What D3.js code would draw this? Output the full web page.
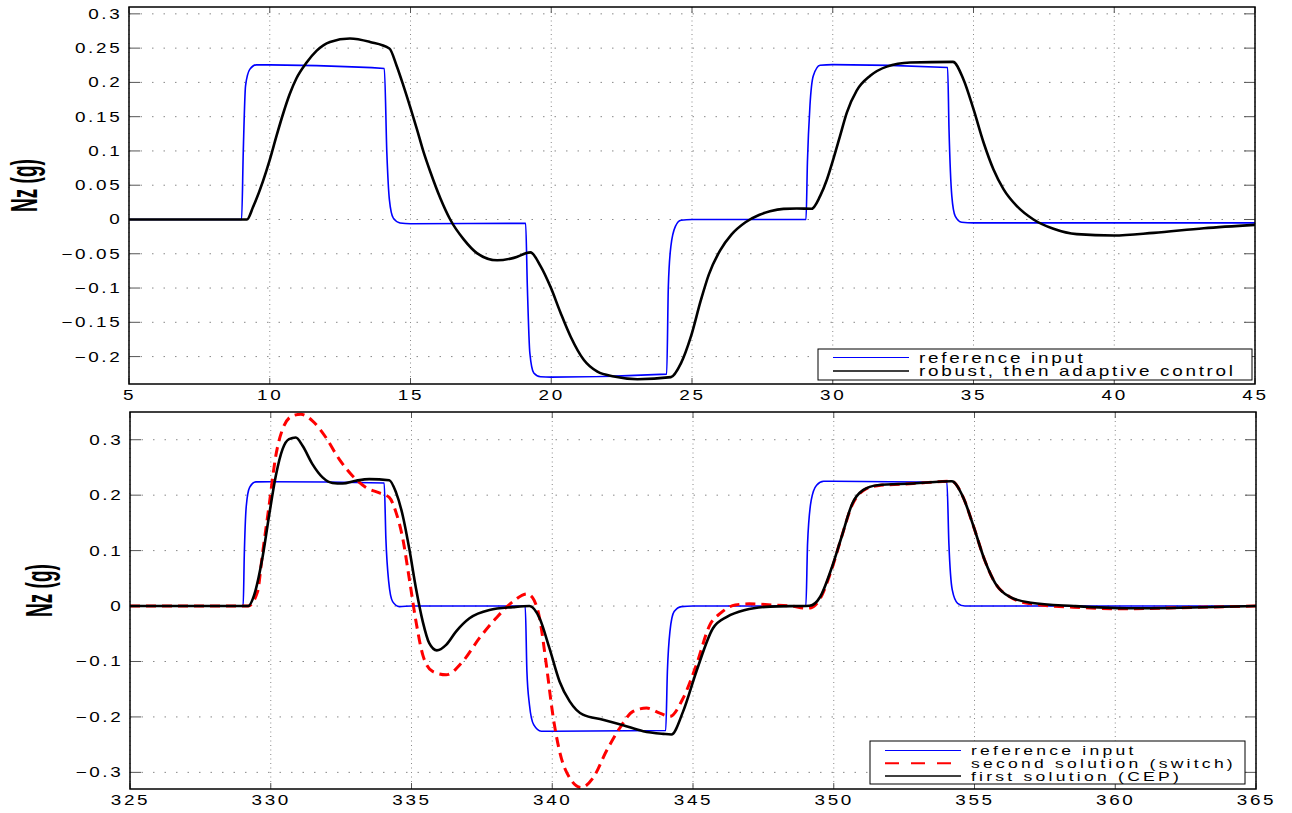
<!DOCTYPE html>
<html>
<head>
<meta charset="utf-8">
<script src="https://cdn.jsdelivr.net/npm/d3@7"></script>
<style>
  body { margin: 0; background: #fff; }
  text { font-family: "Liberation Sans", Arial, sans-serif; fill: #000; }
</style>
</head>
<body>
<svg id="chart" width="1292" height="813"></svg>
<script>
// ---- data (time in s, Nz in g) ----
var topXTicks = [5, 10, 15, 20, 25, 30, 35, 40, 45];
var topYTicks = [-0.2, -0.15, -0.1, -0.05, 0, 0.05, 0.1, 0.15, 0.2, 0.25, 0.3];
var bottomXTicks = [325, 330, 335, 340, 345, 350, 355, 360, 365];
var bottomYTicks = [-0.3, -0.2, -0.1, 0, 0.1, 0.2, 0.3];

var topReference = [[5,0],[9.0,0],[9.06,0.1],[9.14,0.195],[9.29,0.219],[9.52,0.2256],[10,0.2255],[14.07,0.2203],
  [14.16,0.097],[14.25,0.029],[14.39,0.002],[14.63,-0.005],[15,-0.0062],[19.09,-0.0055],[19.15,-0.097],[19.24,-0.195],
  [19.38,-0.224],[19.62,-0.2295],[20,-0.23],[24.1,-0.2256],[24.16,-0.097],[24.25,-0.039],[24.41,-0.01],[24.61,-0.001],
  [25,0],[29.05,0],[29.1,0.083],[29.19,0.166],[29.31,0.2096],[29.55,0.225],[30,0.226],[34.08,0.2217],[34.13,0.1316],
  [34.23,0.034],[34.35,0.005],[34.58,-0.004],[35,-0.005],[45,-0.005]];

var topRobustAdaptive = [[5,0],[9.19,0],[9.41,0.0185],[9.76,0.056],[10,0.087],[10.24,0.122],[10.48,0.155],[10.71,0.183],
  [10.95,0.206],[11.31,0.229],[11.66,0.246],[12.14,0.259],[12.85,0.264],[13.56,0.259],[14.25,0.2495],[14.51,0.224],
  [14.75,0.195],[14.99,0.164],[15.23,0.1316],[15.46,0.099],[15.7,0.07],[16.06,0.031],[16.41,0.0],[16.89,-0.029],
  [17.36,-0.049],[18.08,-0.0595],[18.67,-0.056],[19.26,-0.048],[19.62,-0.068],[19.98,-0.099],[20.33,-0.136],[20.69,-0.171],
  [21.16,-0.205],[21.64,-0.222],[22.23,-0.229],[23.06,-0.233],[24.25,-0.23],[24.61,-0.2096],[24.96,-0.171],[25.32,-0.117],
  [25.6,-0.08],[26.0,-0.045],[26.4,-0.022],[26.9,-0.004],[27.4,0.007],[27.77,0.012],[28.25,0.0155],[28.72,0.016],[29.25,0.0156],
  [29.55,0.034],[29.79,0.058],[30.02,0.088],[30.26,0.122],[30.5,0.156],[30.85,0.188],[31.33,0.2096],[31.92,0.223],
  [32.75,0.229],[34.27,0.23],[34.64,0.2047],[35.0,0.161],[35.36,0.112],[35.71,0.073],[36.07,0.044],[36.54,0.0195],
  [37.13,0],[37.84,-0.0136],[38.67,-0.0214],[39.98,-0.0234],[41.4,-0.0195],[43.18,-0.0127],[45,-0.0078]];

var bottomReference = [[325,0],[329.02,0],[329.06,0.092],[329.13,0.18],[329.25,0.214],[329.47,0.224],[330,0.2242],
  [334.03,0.222],[334.09,0.1216],[334.19,0.044],[334.33,0.008],[334.57,-0.001],[335,0],[339.04,0],[339.1,-0.118],
  [339.19,-0.178],[339.34,-0.214],[339.61,-0.2257],[340,-0.2257],[344.03,-0.2246],[344.09,-0.118],[344.18,-0.046],
  [344.33,-0.01],[344.59,-0.001],[345,0],[349.01,0],[349.07,0.113],[349.2,0.191],[349.39,0.218],[349.64,0.225],
  [350,0.225],[354.02,0.2234],[354.09,0.113],[354.21,0.029],[354.4,0.005],[354.66,0],[365,0]];

var bottomSwitch = [[325,0],[329.2,0],[329.53,0.0257],[329.7,0.0916],[329.94,0.181],[330.18,0.271],[330.42,0.319],
  [330.77,0.343],[331.07,0.346],[331.48,0.334],[331.96,0.304],[332.43,0.265],[332.9,0.235],[333.38,0.214],[333.86,0.204],
  [334.21,0.196],[334.45,0.169],[334.69,0.1216],[334.92,0.0497],[335.16,-0.028],[335.4,-0.088],[335.75,-0.118],
  [336.23,-0.124],[336.82,-0.1],[337.41,-0.058],[338.0,-0.022],[338.6,0.008],[339.1,0.022],[339.3,0.015],[339.55,-0.022],
  [339.79,-0.106],[340.02,-0.196],[340.26,-0.262],[340.62,-0.31],[341.03,-0.3275],[341.45,-0.31],[341.92,-0.262],
  [342.4,-0.22],[342.87,-0.19],[343.35,-0.184],[343.82,-0.193],[344.18,-0.199],[344.65,-0.166],[345.12,-0.106],
  [345.6,-0.034],[346.0,-0.012],[346.5,0.002],[347,0.004],[347.8,0.002],[348.5,0],[349.0,-0.004],[349.2,-0.003],
  [349.5,0.012],[349.9,0.062],[350.28,0.125],[350.66,0.183],[351.04,0.208],[351.55,0.217],[352.82,0.221],[354.19,0.225],
  [354.59,0.197],[354.97,0.143],[355.36,0.083],[355.74,0.041],[356.24,0.017],[357,0.004],[358.5,-0.002],[360.4,-0.005],
  [362.3,-0.003],[365,0]];

var bottomCEP = [[325,0],[329.2,0],[329.41,0.0198],[329.7,0.0856],[329.94,0.163],[330.18,0.235],[330.42,0.283],
  [330.65,0.301],[330.89,0.304],[331.13,0.289],[331.48,0.256],[331.84,0.232],[332.19,0.222],[332.55,0.221],[333.02,0.226],
  [333.5,0.229],[334.21,0.227],[334.45,0.205],[334.69,0.163],[334.92,0.1036],[335.16,0.0317],[335.4,-0.028],[335.63,-0.067],
  [335.9,-0.08],[336.23,-0.07],[336.58,-0.046],[337.06,-0.022],[337.77,-0.007],[338.6,-0.002],[339.19,0],[339.55,-0.022],
  [339.9,-0.076],[340.26,-0.136],[340.62,-0.172],[341.09,-0.196],[341.8,-0.205],[342.52,-0.215],[343.23,-0.2257],
  [343.94,-0.2305],[344.23,-0.2317],[344.65,-0.19],[345.12,-0.118],[345.71,-0.04],[346.22,-0.019],[346.85,-0.007],
  [347.74,-0.001],[349.14,0.0006],[349.52,0.0168],[349.9,0.065],[350.28,0.125],[350.66,0.185],[351.04,0.209],[351.55,0.218],
  [352.82,0.221],[354.19,0.225],[354.59,0.197],[354.97,0.143],[355.36,0.083],[355.74,0.041],[356.24,0.0168],[357.0,0.006],
  [358.53,0],[360.43,-0.004],[362.34,-0.003],[365,0]];

var svg = d3.select("#chart");
var STRETCH = 1.35;   // text in the picture is drawn wide
var fmt = d3.format("~g");

function stretch(sel, dx, size, spacing) {
    sel.attr("transform", "scale(" + STRETCH + ",1)")
       .style("letter-spacing", (spacing || 2) + "px")
       .style("font-size", (size || 14) + "px");
    if (dx != null) sel.attr("x", dx / STRETCH);
}

function drawPanel(p, id) {
    var x = d3.scaleLinear().domain(p.xDomain).range([p.left, p.right]);
    var y = d3.scaleLinear().domain(p.yDomain).range([p.bottom, p.top]);
    var g = svg.append("g");

    // dotted grid
    g.append("g").selectAll("line").data(p.yTicks).join("line")
        .attr("x1", p.left).attr("x2", p.right)
        .attr("y1", d => y(d)).attr("y2", d => y(d))
        .attr("stroke", "#888").attr("stroke-width", 1)
        .attr("stroke-dasharray", "1.5,10");
    g.append("g").selectAll("line").data(p.xTicks).join("line")
        .attr("y1", p.top).attr("y2", p.bottom)
        .attr("x1", d => x(d)).attr("x2", d => x(d))
        .attr("stroke", "#888").attr("stroke-width", 1)
        .attr("stroke-dasharray", "1,3.5");

    // inward ticks on all four sides
    var ticks = g.append("g").attr("stroke", "#555").attr("stroke-width", 1);
    p.yTicks.forEach(function(d) {
        ticks.append("line").attr("x1", p.left).attr("x2", p.left + 11).attr("y1", y(d)).attr("y2", y(d));
        ticks.append("line").attr("x1", p.right).attr("x2", p.right - 11).attr("y1", y(d)).attr("y2", y(d));
    });
    p.xTicks.forEach(function(d) {
        ticks.append("line").attr("y1", p.bottom).attr("y2", p.bottom - 6).attr("x1", x(d)).attr("x2", x(d));
        ticks.append("line").attr("y1", p.top).attr("y2", p.top + 6).attr("x1", x(d)).attr("x2", x(d));
    });

    // tick labels through d3 axes
    g.append("g").attr("transform", "translate(0," + p.bottom + ")")
        .call(d3.axisBottom(x).tickValues(p.xTicks).tickSize(0).tickPadding(6).tickFormat(fmt))
        .call(a => a.select(".domain").remove())
        .selectAll("text").call(stretch);
    g.append("g").attr("transform", "translate(" + p.left + ",0)")
        .call(d3.axisLeft(y).tickValues(p.yTicks).tickSize(0).tickFormat(fmt))
        .call(a => a.select(".domain").remove())
        .selectAll("text").call(stretch, -6.5);
    g.selectAll(".tick text").attr("fill", "#000").style("font-family", "'Liberation Sans', Arial, sans-serif");

    // curves
    svg.append("clipPath").attr("id", "clip" + id).append("rect")
        .attr("x", p.left).attr("y", p.top)
        .attr("width", p.right - p.left).attr("height", p.bottom - p.top);
    var line = d3.line().x(d => x(d[0])).y(d => y(d[1])).curve(d3.curveMonotoneX);
    var curves = g.append("g").attr("clip-path", "url(#clip" + id + ")");
    p.series.forEach(function(s) {
        curves.append("path").datum(s.data)
            .attr("d", line)
            .attr("fill", "none")
            .attr("stroke", s.color)
            .attr("stroke-width", s.width)
            .attr("stroke-dasharray", s.dash || null)
            .attr("stroke-linejoin", "round");
    });

    // frame
    g.append("rect").attr("x", p.left).attr("y", p.top)
        .attr("width", p.right - p.left).attr("height", p.bottom - p.top)
        .attr("fill", "none").attr("stroke", "#000").attr("stroke-width", 1.5);

    // y label
    var lab = g.append("text")
        .attr("transform", "translate(" + p.labelX + "," + ((p.top + p.bottom) / 2 - 10) + ") scale(1.35,0.68) rotate(-90)")
        .attr("text-anchor", "middle")
        .style("font-weight", "bold")
        .style("font-size", "28px");
    lab.append("tspan").text("Nz");
    lab.append("tspan").text(" (g)");

    // legend
    var L = p.legend;
    var leg = g.append("g");
    leg.append("rect").attr("x", L.x).attr("y", L.y).attr("width", L.w).attr("height", L.h)
        .attr("fill", "#fff").attr("stroke", "#000").attr("stroke-width", 1);
    L.rows.forEach(function(r, i) {
        var cy = L.y + L.first + i * L.step;
        leg.append("line").attr("x1", L.x + 15).attr("x2", L.x + 91).attr("y1", cy).attr("y2", cy)
            .attr("stroke", r.color).attr("stroke-width", r.width)
            .attr("stroke-dasharray", r.dash || null);
        leg.append("text").attr("y", cy + L.size * 0.36).text(r.label)
            .call(stretch, L.x + 101, L.size, L.spacing);
    });
}

drawPanel({
    xDomain: [5, 45], yDomain: [-0.24, 0.31],
    left: 129, right: 1255, top: 7, bottom: 384,
    xTicks: topXTicks, yTicks: topYTicks, labelX: 37,
    series: [
        { data: topReference, color: "#0000ff", width: 1.6 },
        { data: topRobustAdaptive, color: "#000", width: 2.6 }
    ],
    legend: { x: 818, y: 349, w: 434, h: 31, first: 8.5, step: 13.5, size: 14, spacing: 2, rows: [
        { label: "reference input", color: "#0000ff", width: 1 },
        { label: "robust, then adaptive control", color: "#000", width: 1.5 }
    ]}
}, "Top");

drawPanel({
    xDomain: [325, 365], yDomain: [-0.33, 0.35],
    left: 130, right: 1256, top: 412, bottom: 789,
    xTicks: bottomXTicks, yTicks: bottomYTicks, labelX: 52,
    series: [
        { data: bottomReference, color: "#0000ff", width: 1.6 },
        { data: bottomSwitch, color: "#ff0000", width: 3, dash: "10,6" },
        { data: bottomCEP, color: "#000", width: 2.6 }
    ],
    legend: { x: 870, y: 741, w: 375, h: 43, first: 9.5, step: 12.7, size: 13, spacing: 2.4, rows: [
        { label: "reference input", color: "#0000ff", width: 1 },
        { label: "second solution (switch)", color: "#ff0000", width: 2, dash: "14,12" },
        { label: "first solution (CEP)", color: "#000", width: 1.5 }
    ]}
}, "Bottom");
</script>
</body>
</html>
